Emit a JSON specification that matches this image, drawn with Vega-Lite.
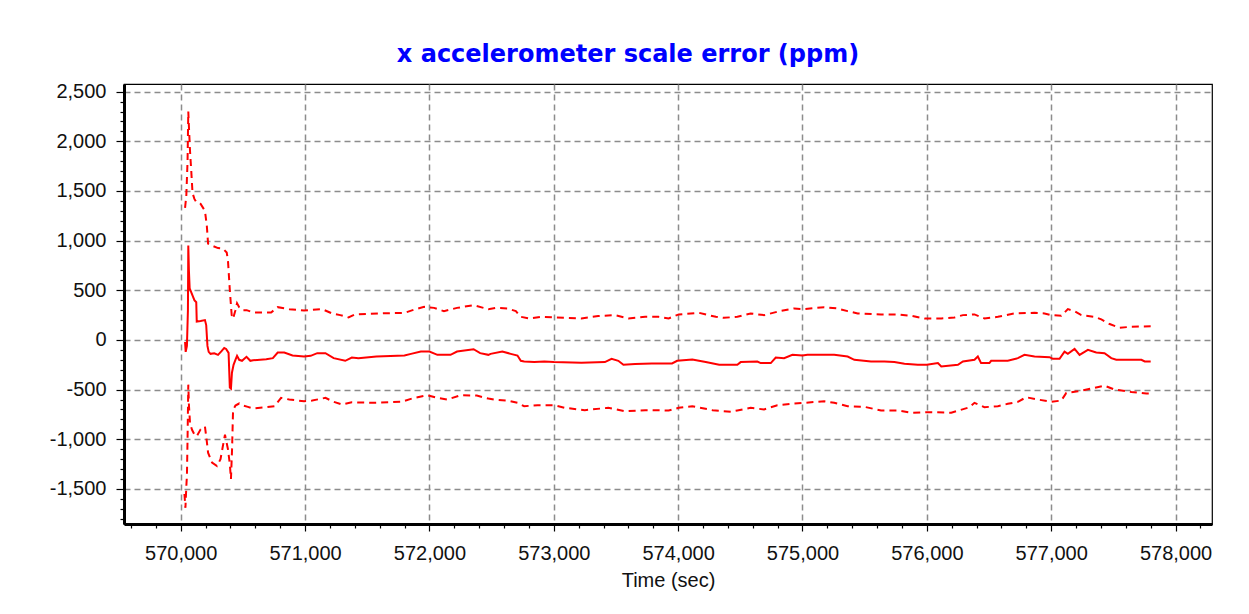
{
  "$schema": "https://vega.github.io/schema/vega-lite/v6.json",
  "width": 1088,
  "height": 440,
  "autosize": {"type": "none"},
  "padding": {"left": 124, "top": 84, "right": 37, "bottom": 90},
  "background": "white",
  "title": {
    "text": "x accelerometer scale error (ppm)",
    "font": "DejaVu Sans",
    "fontSize": 24,
    "fontWeight": "bold",
    "color": "#0000FF",
    "anchor": "middle",
    "dx": -40,
    "dy": 28,
    "baseline": "alphabetic",
    "offset": 24
  },
  "datasets": {
    "est": [
      {"t": 570035, "v": -20}, {"t": 570040, "v": -120}, {"t": 570050, "v": -60}, {"t": 570058, "v": 300},
      {"t": 570061, "v": 950}, {"t": 570066, "v": 700}, {"t": 570072, "v": 520}, {"t": 570085, "v": 480},
      {"t": 570110, "v": 400}, {"t": 570125, "v": 380}, {"t": 570129, "v": 185}, {"t": 570160, "v": 190},
      {"t": 570195, "v": 200}, {"t": 570205, "v": 150}, {"t": 570215, "v": -60}, {"t": 570225, "v": -120},
      {"t": 570240, "v": -140}, {"t": 570270, "v": -135}, {"t": 570300, "v": -150}, {"t": 570330, "v": -110},
      {"t": 570350, "v": -80}, {"t": 570365, "v": -90}, {"t": 570385, "v": -130}, {"t": 570395, "v": -480},
      {"t": 570404, "v": -490}, {"t": 570412, "v": -330}, {"t": 570425, "v": -250}, {"t": 570440, "v": -200},
      {"t": 570453, "v": -160}, {"t": 570470, "v": -200}, {"t": 570493, "v": -210}, {"t": 570529, "v": -170},
      {"t": 570560, "v": -210}, {"t": 570582, "v": -205}, {"t": 570688, "v": -195}, {"t": 570741, "v": -183},
      {"t": 570780, "v": -127}, {"t": 570833, "v": -127}, {"t": 570899, "v": -157}, {"t": 570992, "v": -167},
      {"t": 571045, "v": -160}, {"t": 571098, "v": -133}, {"t": 571164, "v": -133}, {"t": 571230, "v": -183},
      {"t": 571323, "v": -210}, {"t": 571376, "v": -177}, {"t": 571429, "v": -183}, {"t": 571574, "v": -167},
      {"t": 571799, "v": -157}, {"t": 571852, "v": -140}, {"t": 571931, "v": -117}, {"t": 572000, "v": -117},
      {"t": 572064, "v": -150}, {"t": 572170, "v": -150}, {"t": 572222, "v": -117}, {"t": 572355, "v": -93},
      {"t": 572408, "v": -133}, {"t": 572474, "v": -150}, {"t": 572492, "v": -140}, {"t": 572586, "v": -117},
      {"t": 572654, "v": -140}, {"t": 572708, "v": -157}, {"t": 572735, "v": -210}, {"t": 572762, "v": -217},
      {"t": 572843, "v": -223}, {"t": 572924, "v": -217}, {"t": 573000, "v": -223}, {"t": 573222, "v": -230},
      {"t": 573411, "v": -223}, {"t": 573465, "v": -190}, {"t": 573519, "v": -210}, {"t": 573560, "v": -250},
      {"t": 573654, "v": -243}, {"t": 573789, "v": -237}, {"t": 573951, "v": -237}, {"t": 573992, "v": -210},
      {"t": 574114, "v": -197}, {"t": 574222, "v": -223}, {"t": 574330, "v": -250}, {"t": 574476, "v": -250},
      {"t": 574503, "v": -223}, {"t": 574637, "v": -217}, {"t": 574664, "v": -233}, {"t": 574745, "v": -233},
      {"t": 574785, "v": -177}, {"t": 574852, "v": -183}, {"t": 574919, "v": -150}, {"t": 575000, "v": -157},
      {"t": 575040, "v": -150}, {"t": 575255, "v": -150}, {"t": 575363, "v": -167}, {"t": 575417, "v": -200},
      {"t": 575551, "v": -217}, {"t": 575659, "v": -217}, {"t": 575739, "v": -223}, {"t": 575820, "v": -240},
      {"t": 575927, "v": -250}, {"t": 576000, "v": -250}, {"t": 576089, "v": -233}, {"t": 576116, "v": -267},
      {"t": 576250, "v": -250}, {"t": 576290, "v": -217}, {"t": 576383, "v": -200}, {"t": 576410, "v": -167},
      {"t": 576436, "v": -233}, {"t": 576503, "v": -233}, {"t": 576517, "v": -210}, {"t": 576651, "v": -210},
      {"t": 576732, "v": -183}, {"t": 576785, "v": -150}, {"t": 576866, "v": -167}, {"t": 576987, "v": -173},
      {"t": 577013, "v": -190}, {"t": 577067, "v": -190}, {"t": 577107, "v": -117}, {"t": 577134, "v": -140},
      {"t": 577188, "v": -90}, {"t": 577228, "v": -150}, {"t": 577295, "v": -100}, {"t": 577362, "v": -127},
      {"t": 577429, "v": -133}, {"t": 577483, "v": -183}, {"t": 577523, "v": -200}, {"t": 577725, "v": -200},
      {"t": 577752, "v": -217}, {"t": 577800, "v": -217}
    ],
    "hi": [
      {"t": 570035, "v": 1330}, {"t": 570045, "v": 1450}, {"t": 570055, "v": 1800}, {"t": 570061, "v": 2300},
      {"t": 570066, "v": 2150}, {"t": 570075, "v": 1900}, {"t": 570085, "v": 1700}, {"t": 570095, "v": 1480},
      {"t": 570110, "v": 1420}, {"t": 570129, "v": 1380}, {"t": 570160, "v": 1370}, {"t": 570195, "v": 1300},
      {"t": 570210, "v": 1150}, {"t": 570220, "v": 970}, {"t": 570252, "v": 950}, {"t": 570300, "v": 925},
      {"t": 570340, "v": 920}, {"t": 570370, "v": 880}, {"t": 570380, "v": 800}, {"t": 570395, "v": 500},
      {"t": 570410, "v": 250}, {"t": 570421, "v": 214}, {"t": 570440, "v": 300}, {"t": 570453, "v": 370},
      {"t": 570470, "v": 330}, {"t": 570493, "v": 300}, {"t": 570530, "v": 300}, {"t": 570582, "v": 277},
      {"t": 570727, "v": 277}, {"t": 570780, "v": 330}, {"t": 570873, "v": 310}, {"t": 570992, "v": 297},
      {"t": 571138, "v": 310}, {"t": 571217, "v": 267}, {"t": 571283, "v": 250}, {"t": 571349, "v": 227},
      {"t": 571402, "v": 257}, {"t": 571587, "v": 267}, {"t": 571799, "v": 273}, {"t": 571865, "v": 300},
      {"t": 571958, "v": 333}, {"t": 572037, "v": 323}, {"t": 572117, "v": 290}, {"t": 572222, "v": 323},
      {"t": 572355, "v": 350}, {"t": 572474, "v": 310}, {"t": 572532, "v": 323}, {"t": 572627, "v": 317},
      {"t": 572695, "v": 290}, {"t": 572735, "v": 233}, {"t": 572803, "v": 217}, {"t": 572897, "v": 233},
      {"t": 573005, "v": 227}, {"t": 573222, "v": 217}, {"t": 573357, "v": 240}, {"t": 573492, "v": 250},
      {"t": 573600, "v": 217}, {"t": 573735, "v": 233}, {"t": 573843, "v": 233}, {"t": 573924, "v": 217},
      {"t": 574005, "v": 257}, {"t": 574168, "v": 273}, {"t": 574303, "v": 233}, {"t": 574368, "v": 223},
      {"t": 574476, "v": 233}, {"t": 574583, "v": 267}, {"t": 574691, "v": 250}, {"t": 574825, "v": 293},
      {"t": 574933, "v": 317}, {"t": 575013, "v": 310}, {"t": 575175, "v": 330}, {"t": 575282, "v": 317},
      {"t": 575363, "v": 290}, {"t": 575444, "v": 267}, {"t": 575632, "v": 257}, {"t": 575766, "v": 257},
      {"t": 575874, "v": 243}, {"t": 575981, "v": 217}, {"t": 576116, "v": 217}, {"t": 576223, "v": 227},
      {"t": 576290, "v": 250}, {"t": 576383, "v": 257}, {"t": 576463, "v": 217}, {"t": 576571, "v": 233},
      {"t": 576705, "v": 267}, {"t": 576866, "v": 273}, {"t": 576946, "v": 267}, {"t": 577000, "v": 250},
      {"t": 577081, "v": 243}, {"t": 577134, "v": 310}, {"t": 577188, "v": 290}, {"t": 577242, "v": 250},
      {"t": 577349, "v": 233}, {"t": 577403, "v": 207}, {"t": 577470, "v": 160}, {"t": 577550, "v": 123},
      {"t": 577644, "v": 133}, {"t": 577800, "v": 137}
    ],
    "lo": [
      {"t": 570030, "v": -1550}, {"t": 570038, "v": -1690}, {"t": 570045, "v": -1480}, {"t": 570050, "v": -1365},
      {"t": 570055, "v": -1000}, {"t": 570061, "v": -450}, {"t": 570066, "v": -650}, {"t": 570075, "v": -840},
      {"t": 570091, "v": -905}, {"t": 570110, "v": -950}, {"t": 570129, "v": -970}, {"t": 570160, "v": -900},
      {"t": 570195, "v": -872}, {"t": 570208, "v": -1000}, {"t": 570220, "v": -1135}, {"t": 570252, "v": -1234},
      {"t": 570292, "v": -1270}, {"t": 570320, "v": -1200}, {"t": 570356, "v": -954}, {"t": 570380, "v": -1100},
      {"t": 570395, "v": -1250}, {"t": 570404, "v": -1400}, {"t": 570413, "v": -1100}, {"t": 570421, "v": -707},
      {"t": 570440, "v": -660}, {"t": 570470, "v": -640}, {"t": 570493, "v": -658}, {"t": 570540, "v": -674},
      {"t": 570582, "v": -690}, {"t": 570688, "v": -677}, {"t": 570754, "v": -667}, {"t": 570807, "v": -583},
      {"t": 570873, "v": -600}, {"t": 570992, "v": -617}, {"t": 571058, "v": -610}, {"t": 571164, "v": -583},
      {"t": 571230, "v": -623}, {"t": 571296, "v": -650}, {"t": 571376, "v": -627}, {"t": 571534, "v": -633},
      {"t": 571773, "v": -623}, {"t": 571878, "v": -583}, {"t": 571984, "v": -557}, {"t": 572064, "v": -583},
      {"t": 572143, "v": -600}, {"t": 572249, "v": -557}, {"t": 572381, "v": -560}, {"t": 572474, "v": -590},
      {"t": 572519, "v": -600}, {"t": 572627, "v": -610}, {"t": 572708, "v": -633}, {"t": 572762, "v": -667},
      {"t": 572870, "v": -657}, {"t": 573005, "v": -657}, {"t": 573086, "v": -683}, {"t": 573249, "v": -707},
      {"t": 573438, "v": -683}, {"t": 573573, "v": -717}, {"t": 573735, "v": -707}, {"t": 573924, "v": -710},
      {"t": 574005, "v": -683}, {"t": 574114, "v": -667}, {"t": 574276, "v": -707}, {"t": 574424, "v": -723},
      {"t": 574476, "v": -710}, {"t": 574583, "v": -683}, {"t": 574691, "v": -700}, {"t": 574798, "v": -657},
      {"t": 574933, "v": -640}, {"t": 575013, "v": -633}, {"t": 575175, "v": -617}, {"t": 575255, "v": -633},
      {"t": 575363, "v": -667}, {"t": 575497, "v": -673}, {"t": 575632, "v": -710}, {"t": 575766, "v": -710},
      {"t": 575874, "v": -733}, {"t": 576035, "v": -727}, {"t": 576196, "v": -733}, {"t": 576344, "v": -677},
      {"t": 576383, "v": -633}, {"t": 576463, "v": -677}, {"t": 576571, "v": -667}, {"t": 576651, "v": -643},
      {"t": 576732, "v": -623}, {"t": 576799, "v": -577}, {"t": 576893, "v": -600}, {"t": 577000, "v": -623},
      {"t": 577081, "v": -610}, {"t": 577121, "v": -533}, {"t": 577215, "v": -517}, {"t": 577322, "v": -490},
      {"t": 577429, "v": -460}, {"t": 577510, "v": -500}, {"t": 577644, "v": -523}, {"t": 577765, "v": -540},
      {"t": 577800, "v": -540}
    ]
  },
  "encoding": {
    "x": {
      "field": "t", "type": "quantitative",
      "scale": {"domain": [569544, 578293], "nice": false, "zero": false},
      "axis": {
        "title": "Time (sec)",
        "values": [569600, 569800, 570000, 570200, 570400, 570600, 570800, 571000, 571200, 571400, 571600, 571800, 572000, 572200, 572400, 572600, 572800, 573000, 573200, 573400, 573600, 573800, 574000, 574200, 574400, 574600, 574800, 575000, 575200, 575400, 575600, 575800, 576000, 576200, 576400, 576600, 576800, 577000, 577200, 577400, 577600, 577800, 578000, 578200],
        "labelExpr": "datum.value % 1000 === 0 ? format(datum.value, ',') : ''",
        "labelOverlap": false,
        "labelFlush": false,
        "tickSize": {"condition": {"test": "datum.value % 1000 === 0", "value": 7}, "value": 4},
        "gridOpacity": {"condition": {"test": "datum.value % 1000 === 0", "value": 1}, "value": 0},
        "labelPadding": 12,
        "titlePadding": 7
      }
    },
    "y": {
      "field": "v", "type": "quantitative",
      "scale": {"domain": [-1853, 2577], "nice": false, "zero": false},
      "axis": {
        "title": null,
        "values": [-1800, -1700, -1600, -1500, -1400, -1300, -1200, -1100, -1000, -900, -800, -700, -600, -500, -400, -300, -200, -100, 0, 100, 200, 300, 400, 500, 600, 700, 800, 900, 1000, 1100, 1200, 1300, 1400, 1500, 1600, 1700, 1800, 1900, 2000, 2100, 2200, 2300, 2400, 2500],
        "labelExpr": "datum.value % 500 === 0 ? replace(format(datum.value, ','), '\u2212', '-') : ''",
        "labelOverlap": false,
        "labelFlush": false,
        "tickSize": {"condition": {"test": "datum.value % 500 === 0", "value": 8}, "value": 4},
        "gridOpacity": {"condition": {"test": "datum.value % 500 === 0", "value": 1}, "value": 0},
        "labelPadding": 10
      }
    }
  },
  "layer": [
    {"data": {"name": "hi"}, "mark": {"type": "line", "color": "#FF0000", "strokeWidth": 2, "strokeDash": [7, 5]}},
    {"data": {"name": "lo"}, "mark": {"type": "line", "color": "#FF0000", "strokeWidth": 2, "strokeDash": [7, 5]}},
    {"data": {"name": "est"}, "mark": {"type": "line", "color": "#FF0000", "strokeWidth": 2}}
  ],
  "config": {
    "view": {"stroke": "#000000", "strokeWidth": 1.2},
    "axis": {
      "domainColor": "#000000",
      "domainWidth": 3,
      "tickColor": "#000000",
      "tickWidth": 1.2,
      "grid": true,
      "gridColor": "#8c8c8c",
      "gridWidth": 1.5,
      "gridDash": [6, 4],
      "labelFont": "Liberation Sans",
      "labelFontSize": 20,
      "labelColor": "#111111",
      "titleFont": "Liberation Sans",
      "titleFontSize": 20,
      "titleFontWeight": "normal",
      "titleColor": "#111111"
    }
  }
}
